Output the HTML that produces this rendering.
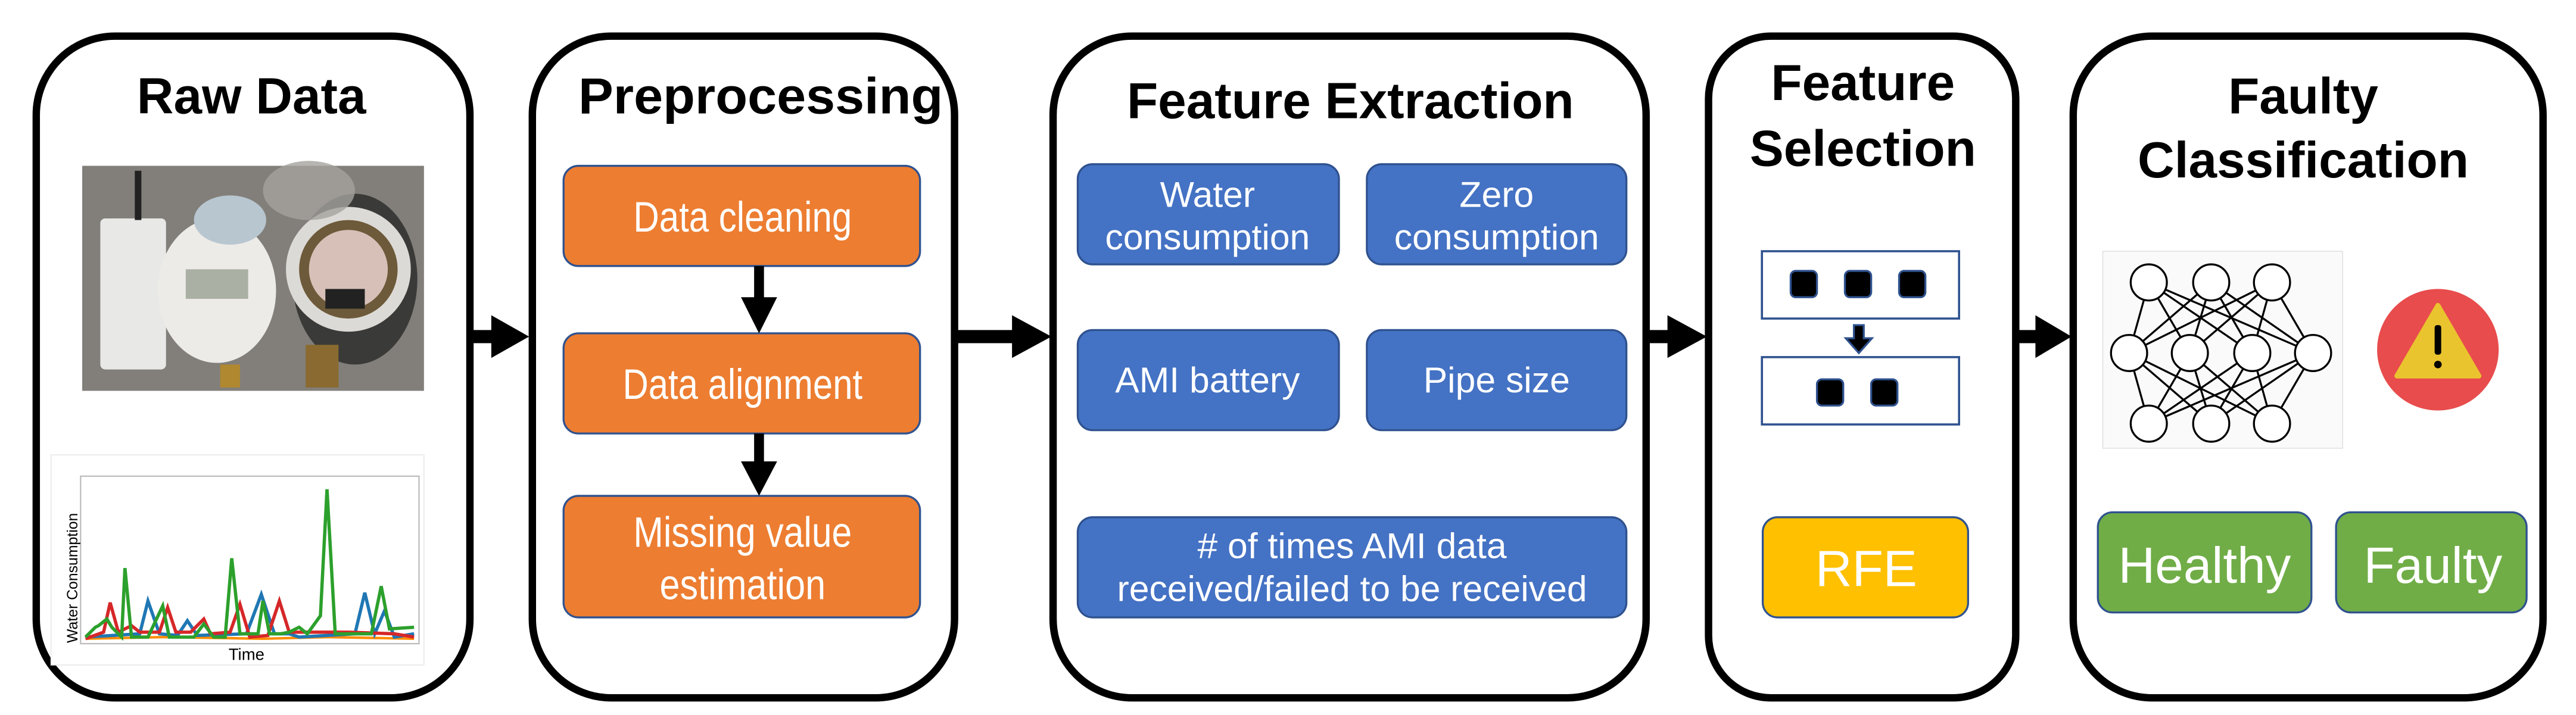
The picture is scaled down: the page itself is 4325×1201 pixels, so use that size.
<!DOCTYPE html>
<html><head><meta charset="utf-8"><style>
html,body{margin:0;padding:0;background:#fff;}
svg{display:block;}
text{font-family:"Liberation Sans",Arial,sans-serif;}
.t{font-weight:bold;font-size:31px;fill:#000;text-anchor:middle;}
.b{fill:#fff;text-anchor:middle;}
</style></head><body>
<svg width="4325" height="1201" viewBox="0 0 1568 435.45" xmlns="http://www.w3.org/2000/svg">
<g fill="#fff" stroke="#000" stroke-width="4.5">
<rect x="22" y="22" width="264" height="403" rx="48"/>
<rect x="324" y="22" width="257" height="403" rx="48"/>
<rect x="641" y="22" width="361" height="403" rx="48"/>
<rect x="1040" y="22" width="187" height="403" rx="38"/>
<rect x="1262" y="22" width="286" height="403" rx="48"/>
</g>
<g fill="#000">
<rect x="286" y="201" width="14" height="8"/><polygon points="299,192 322,205 299,218"/>
<rect x="581" y="201" width="36" height="8"/><polygon points="616,192 640,205 616,218"/>
<rect x="1002" y="201" width="14" height="8"/><polygon points="1015,192 1039,205 1015,218"/>
<rect x="1227" y="201" width="13" height="8"/><polygon points="1239,192 1261,205 1239,218"/>
</g>
<text class="t" x="153" y="69">Raw Data</text>
<text class="t" x="463" y="69" textLength="222" lengthAdjust="spacingAndGlyphs">Preprocessing</text>
<text class="t" x="822" y="72">Feature Extraction</text>
<text class="t" x="1134" y="61">Feature</text>
<text class="t" x="1134" y="101">Selection</text>
<text class="t" x="1402" y="69">Faulty</text>
<text class="t" x="1402" y="108">Classification</text>

<rect x="50" y="101" width="208" height="137" fill="#777570"/>
<rect x="50" y="101" width="208" height="137" fill="#8a8680" opacity="0.6"/>
<rect x="61" y="133" width="40" height="92" rx="3" fill="#e8e8e6"/>
<rect x="82" y="104" width="4" height="30" fill="#222"/>
<ellipse cx="132" cy="177" rx="36" ry="44" fill="#ecebe7"/>
<ellipse cx="140" cy="134" rx="22" ry="15" fill="#b8c6d0"/>
<rect x="113" y="164" width="38" height="18" fill="#aab0a4"/>
<rect x="134" y="222" width="12" height="14" fill="#b0882f"/>
<ellipse cx="216" cy="170" rx="38" ry="52" fill="#3a3a38"/>
<circle cx="212" cy="164" r="38" fill="#dcdad6"/>
<circle cx="212" cy="164" r="30" fill="#6d5a3a"/>
<circle cx="212" cy="164" r="24" fill="#d6c0b8"/>
<rect x="198" y="176" width="24" height="12" fill="#222"/>
<rect x="186" y="210" width="20" height="26" fill="#8a6a30"/>
<ellipse cx="188" cy="116" rx="28" ry="18" fill="#a5a39d" opacity="0.8"/>

<rect x="31" y="277" width="227" height="128" fill="#fff" stroke="#e8e8e8" stroke-width="0.6"/>
<rect x="49" y="290" width="206" height="102" fill="#fff" stroke="#bbb" stroke-width="0.8"/>
<text x="47" y="352" font-size="9" transform="rotate(-90 47 352)" text-anchor="middle" fill="#000">Water Consumption</text>
<text x="150" y="402" font-size="10" text-anchor="middle" fill="#000">Time</text>
<polyline fill="none" stroke="#ff8c00" stroke-width="1.5" points="52,389 100,388 160,389 200,388 252,389"/>
<polyline fill="none" stroke="#1f77b4" stroke-width="2" points="52,388 85,386 90,366 97,386 108,387 114,378 120,387 150,386 159,362 167,386 176,386 182,388 199,387 216,386 222,361 228,386 234,372 240,388 252,386"/>
<polyline fill="none" stroke="#d62728" stroke-width="2" points="52,389 63,385 67,367 72,385 80,381 85,385 97,385 102,370 107,385 116,385 124,377 128,386 140,385 146,368 152,388 163,387 170,366 176,385 190,385 200,385 212,385 240,386 252,388"/>
<polyline fill="none" stroke="#2ca02c" stroke-width="2" points="52,388 58,382 60,381 65,377 68,382 74,388 76,346 80,388 90,388 99,369 103,388 118,388 124,380 130,388 137,388 141,340 146,386 152,386 157,386 160,366 164,386 171,386 176,385 182,382 187,386 195,375 199,298 204,386 210,386 226,386 232,357 237,383 252,382"/>

<g fill="#ED7D31" stroke="#2F528F" stroke-width="1.2">
<rect x="343" y="101" width="217" height="61" rx="9"/>
<rect x="343" y="203" width="217" height="61" rx="9"/>
<rect x="343" y="302" width="217" height="74" rx="9"/>
</g>
<g fill="#000">
<rect x="459" y="162" width="6" height="20"/><polygon points="451,181 473,181 462,203"/>
<rect x="459" y="264" width="6" height="19"/><polygon points="451,281 473,281 462,302"/>
</g>
<text class="b" x="452" y="141" font-size="26" textLength="133" lengthAdjust="spacingAndGlyphs">Data cleaning</text>
<text class="b" x="452" y="243" font-size="26" textLength="146" lengthAdjust="spacingAndGlyphs">Data alignment</text>
<text class="b" x="452" y="333" font-size="26" textLength="133" lengthAdjust="spacingAndGlyphs">Missing value</text>
<text class="b" x="452" y="365" font-size="26" textLength="101" lengthAdjust="spacingAndGlyphs">estimation</text>

<g fill="#4472C4" stroke="#2F528F" stroke-width="1.2">
<rect x="656" y="100" width="159" height="61" rx="9"/>
<rect x="832" y="100" width="158" height="61" rx="9"/>
<rect x="656" y="201" width="159" height="61" rx="9"/>
<rect x="832" y="201" width="158" height="61" rx="9"/>
<rect x="656" y="315" width="334" height="61" rx="9"/>
</g>
<text class="b" x="735" y="126" font-size="22">Water</text>
<text class="b" x="735" y="152" font-size="22">consumption</text>
<text class="b" x="911" y="126" font-size="22">Zero</text>
<text class="b" x="911" y="152" font-size="22">consumption</text>
<text class="b" x="735" y="239" font-size="22">AMI battery</text>
<text class="b" x="911" y="239" font-size="22">Pipe size</text>
<text class="b" x="823" y="340" font-size="22">#  of times AMI data</text>
<text class="b" x="823" y="366" font-size="22">received/failed to be received</text>

<g fill="#fff" stroke="#2F528F" stroke-width="1.3">
<rect x="1072.5" y="153" width="120" height="41"/>
<rect x="1072.5" y="217.5" width="120" height="41"/>
</g>
<g fill="#000" stroke="#2F528F" stroke-width="1.2">
<rect x="1090" y="165" width="16" height="16" rx="3"/>
<rect x="1123" y="165" width="16" height="16" rx="3"/>
<rect x="1156" y="165" width="16" height="16" rx="3"/>
<rect x="1106" y="231" width="16" height="16" rx="3"/>
<rect x="1139" y="231" width="16" height="16" rx="3"/>
<path d="M1128.5,198 h6 v8 h5 l-8,9 l-8,-9 h5 z"/>
</g>
<rect x="1073" y="315" width="125" height="61" rx="9" fill="#FFC000" stroke="#2F528F" stroke-width="1.2"/>
<text class="b" x="1136" y="357" font-size="31">RFE</text>

<rect x="1280" y="153" width="146" height="120" fill="#fafafa" stroke="#ddd" stroke-width="0.5"/>
<g stroke="#000" stroke-width="1.2">
<line x1="1308" y1="172" x2="1296" y2="215"/><line x1="1308" y1="172" x2="1333" y2="215"/><line x1="1308" y1="172" x2="1371" y2="215"/><line x1="1308" y1="172" x2="1408" y2="215"/>
<line x1="1346" y1="172" x2="1296" y2="215"/><line x1="1346" y1="172" x2="1333" y2="215"/><line x1="1346" y1="172" x2="1371" y2="215"/><line x1="1346" y1="172" x2="1408" y2="215"/>
<line x1="1383" y1="172" x2="1296" y2="215"/><line x1="1383" y1="172" x2="1333" y2="215"/><line x1="1383" y1="172" x2="1371" y2="215"/><line x1="1383" y1="172" x2="1408" y2="215"/>
<line x1="1308" y1="258" x2="1296" y2="215"/><line x1="1308" y1="258" x2="1333" y2="215"/><line x1="1308" y1="258" x2="1371" y2="215"/><line x1="1308" y1="258" x2="1408" y2="215"/>
<line x1="1346" y1="258" x2="1296" y2="215"/><line x1="1346" y1="258" x2="1333" y2="215"/><line x1="1346" y1="258" x2="1371" y2="215"/><line x1="1346" y1="258" x2="1408" y2="215"/>
<line x1="1383" y1="258" x2="1296" y2="215"/><line x1="1383" y1="258" x2="1333" y2="215"/><line x1="1383" y1="258" x2="1371" y2="215"/><line x1="1383" y1="258" x2="1408" y2="215"/>
<g fill="#fff">
<circle cx="1308" cy="172" r="11"/><circle cx="1346" cy="172" r="11"/><circle cx="1383" cy="172" r="11"/>
<circle cx="1296" cy="215" r="11"/><circle cx="1333" cy="215" r="11"/><circle cx="1371" cy="215" r="11"/><circle cx="1408" cy="215" r="11"/>
<circle cx="1308" cy="258" r="11"/><circle cx="1346" cy="258" r="11"/><circle cx="1383" cy="258" r="11"/>
</g>
</g>
<circle cx="1484" cy="213" r="37" fill="#E84C4C"/>
<polygon points="1484,186 1459,229 1509,229" fill="#EAC42E" stroke="#EAC42E" stroke-width="3" stroke-linejoin="round"/>
<rect x="1482" y="198" width="4" height="18" rx="1.5" fill="#000"/>
<circle cx="1484" cy="222" r="2.3" fill="#000"/>

<g fill="#70AD47" stroke="#2F528F" stroke-width="1.2">
<rect x="1277" y="312" width="130" height="61" rx="9"/>
<rect x="1422" y="312" width="116" height="61" rx="9"/>
</g>
<text class="b" x="1342" y="355" font-size="31">Healthy</text>
<text class="b" x="1481" y="355" font-size="31">Faulty</text>
</svg>
</body></html>
